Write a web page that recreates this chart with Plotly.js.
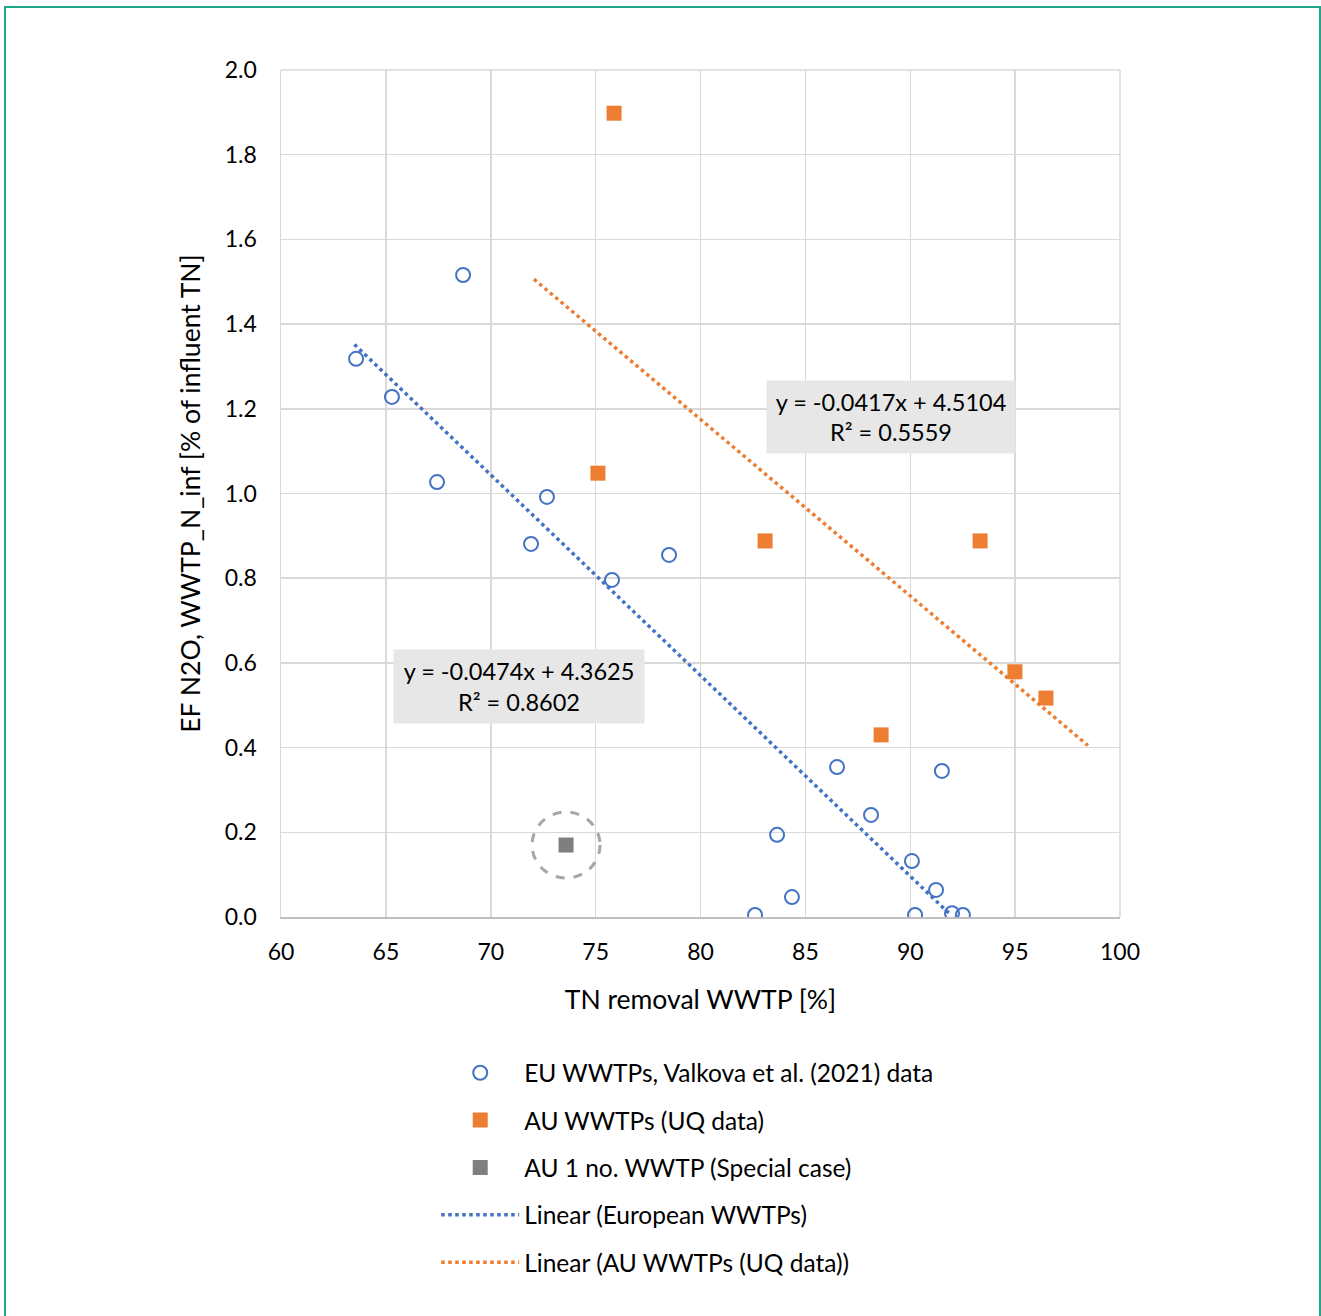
<!DOCTYPE html>
<html>
<head>
<meta charset="utf-8">
<script src="https://cdn.plot.ly/plotly-3.0.1.min.js"></script>
<style>
  html, body { margin: 0; padding: 0; background: #ffffff; }
  #wrap { position: relative; width: 1321px; height: 1316px; overflow: hidden; }
  #frame { position: absolute; left: 4px; top: 6px; width: 1317px; height: 1320px;
           border: 2px solid #1ea98b; box-sizing: border-box; pointer-events: none; z-index: 5; }
  #chart { position: absolute; left: 0; top: 0; width: 1321px; height: 1316px; }
</style>
</head>
<body>
<div id="wrap">
  <div id="chart"></div>
  <div id="frame"></div>
</div>
<script>
// EU WWTPs, Valkova et al. (2021) data
const euX = [63.58, 65.29, 68.68, 67.44, 71.92, 72.68, 75.78, 78.50, 86.51, 91.51, 88.13, 83.65, 84.36, 82.60, 90.08, 90.23, 91.23, 91.99, 92.51];
const euY = [1.318, 1.228, 1.516, 1.027, 0.881, 0.992, 0.796, 0.855, 0.354, 0.345, 0.241, 0.194, 0.047, 0.005, 0.132, 0.005, 0.064, 0.009, 0.005];
// AU WWTPs (UQ data)
const auX = [75.88, 75.11, 83.08, 93.33, 94.99, 96.47, 88.61];
const auY = [1.898, 1.048, 0.888, 0.888, 0.579, 0.517, 0.430];
// AU 1 no. WWTP (Special case)
const spX = [73.59];
const spY = [0.170];
// Trend line end points
const euTrendX = [63.5, 91.95];
const euTrendY = [1.352, 0.004];
const auTrendX = [72.06, 98.47];
const auTrendY = [1.506, 0.405];
// Equation labels
const euEq = "y = -0.0474x + 4.3625<br>R² = 0.8602";
const auEq = "y = -0.0417x + 4.5104<br>R² = 0.5559";
const euEqPos = [71.35, 0.544];
const auEqPos = [89.08, 1.181];
// Axis labels
const xTitle = "TN removal WWTP [%]";
const yTitle = "EF N2O, WWTP_N_inf [% of influent TN]";

const FONT = "Lato, 'Open Sans', sans-serif";
const BLUE = "#4472c4", ORANGE = "#ed7d31", GREY = "#7f7f7f";
const DOTS = "3.5px,3.5px";

const traces = [
  { x: euX, y: euY, type: "scatter", mode: "markers", name: "EU WWTPs, Valkova et al. (2021) data",
    legendgroup: "g1",
    marker: { symbol: "circle-open", size: 14, color: BLUE, line: { width: 2, color: BLUE } } },
  { x: auX, y: auY, type: "scatter", mode: "markers", name: "AU WWTPs (UQ data)",
    legendgroup: "g2",
    marker: { symbol: "square", size: 15, color: ORANGE } },
  { x: spX, y: spY, type: "scatter", mode: "markers", name: "AU 1 no. WWTP (Special case)",
    legendgroup: "g3",
    marker: { symbol: "square", size: 15, color: GREY } },
  { x: euTrendX, y: euTrendY, type: "scatter", mode: "lines", name: "Linear (European WWTPs)",
    legendgroup: "g4",
    line: { color: BLUE, width: 3.5, dash: DOTS } },
  { x: auTrendX, y: auTrendY, type: "scatter", mode: "lines", name: "Linear (AU WWTPs (UQ data))",
    legendgroup: "g5",
    line: { color: ORANGE, width: 3.5, dash: DOTS } }
];

const layout = {
  width: 1321, height: 1316,
  margin: { l: 281, r: 201, t: 70, b: 399 },
  paper_bgcolor: "#ffffff", plot_bgcolor: "#ffffff",
  font: { family: FONT, size: 23, color: "#000000" },
  showlegend: true,
  xaxis: {
    range: [60, 100], dtick: 5, tick0: 60,
    showgrid: true, gridcolor: "#d9d9d9", gridwidth: 1.5,
    zeroline: false, showline: true, linecolor: "#bfbfbf", linewidth: 2,
    ticks: "", ticklabelstandoff: 13,
    tickfont: { family: FONT, size: 23, color: "#000" },
    title: { text: xTitle, font: { family: FONT, size: 26.5, color: "#000" }, standoff: 27 }
  },
  yaxis: {
    range: [0, 2.0], dtick: 0.2, tick0: 0, tickformat: ".1f",
    showgrid: true, gridcolor: "#d9d9d9", gridwidth: 1.5,
    zeroline: false, showline: true, linecolor: "#d9d9d9", linewidth: 1.5,
    ticks: "", ticklabelstandoff: 18,
    tickfont: { family: FONT, size: 23, color: "#000" },
    title: { text: yTitle, font: { family: FONT, size: 26.5, color: "#000" }, standoff: 16 }
  },
  legend: {
    x: 0.185, xanchor: "left", y: -0.1574, yanchor: "top",
    orientation: "v", bgcolor: "rgba(0,0,0,0)",
    font: { family: FONT, size: 24.5, color: "#000" },
    itemwidth: 78, tracegroupgap: 12.5, traceorder: "grouped"
  },
  shapes: [
    { type: "line", xref: "paper", yref: "paper", x0: 1, x1: 1, y0: 0, y1: 1,
      line: { color: "#d9d9d9", width: 1.5 } },
    { type: "line", xref: "paper", yref: "paper", x0: 0, x1: 1, y0: 1, y1: 1,
      line: { color: "#d9d9d9", width: 1.5 } },
    { type: "circle", xref: "x", yref: "y",
      xsizemode: "pixel", ysizemode: "pixel",
      xanchor: spX[0], yanchor: spY[0], x0: -34, x1: 34, y0: -33, y1: 33,
      line: { color: "#a6a6a6", width: 3, dash: "dash" } }
  ],
  annotations: [
    { x: euEqPos[0], y: euEqPos[1], xref: "x", yref: "y", text: euEq, showarrow: false,
      bgcolor: "#e7e7e7", width: 250, height: 73, borderpad: 0, align: "center",
      font: { family: FONT, size: 23.5, color: "#000" } },
    { x: auEqPos[0], y: auEqPos[1], xref: "x", yref: "y", text: auEq, showarrow: false,
      bgcolor: "#e7e7e7", width: 248, height: 72, borderpad: 0, align: "center",
      font: { family: FONT, size: 23.5, color: "#000" } }
  ]
};

Plotly.newPlot("chart", traces, layout, { staticPlot: true, displayModeBar: false });
</script>
</body>
</html>
